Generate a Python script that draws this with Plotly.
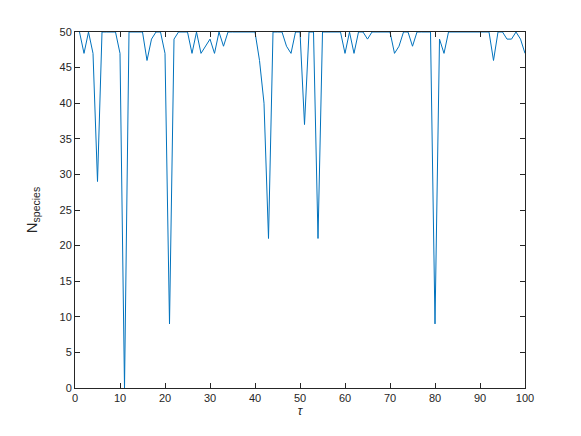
import plotly.graph_objects as go

tau = list(range(1, 101))
n_species = [
    50, 47, 50, 47, 29, 50, 50, 50, 50, 47,
    0, 50, 50, 50, 50, 46, 49, 50, 50, 47,
    9, 49, 50, 50, 50, 47, 50, 47, 48, 49,
    47, 50, 48, 50, 50, 50, 50, 50, 50, 50,
    46, 40, 21, 50, 50, 50, 48, 47, 50, 50,
    37, 50, 50, 21, 50, 50, 50, 50, 50, 47,
    50, 47, 50, 50, 49, 50, 50, 50, 50, 50,
    47, 48, 50, 50, 48, 50, 50, 50, 50, 9,
    49, 47, 50, 50, 50, 50, 50, 50, 50, 50,
    50, 50, 46, 50, 50, 49, 49, 50, 49, 47,
]

axis_color = "#262626"
font = dict(family="Liberation Sans, Arial, sans-serif", size=11, color=axis_color)

fig = go.Figure(go.Scatter(
    x=tau, y=n_species, mode="lines",
    line=dict(color="#0072BD", width=1),
))

common = dict(
    showline=True, linecolor=axis_color, linewidth=1, mirror="ticks",
    ticks="inside", ticklen=5, tickcolor=axis_color, tickwidth=1,
    showgrid=False, zeroline=False, tickfont=font,
)
fig.update_xaxes(range=[0, 100], tickvals=list(range(0, 101, 10)),
                 title=dict(text="<i>τ</i>", font=dict(family=font["family"], size=12, color=axis_color), standoff=3),
                 **common)
fig.update_yaxes(range=[0, 50], tickvals=list(range(0, 51, 5)),
                 title=dict(text="N<sub>species</sub>", font=dict(family=font["family"], size=15, color=axis_color), standoff=18),
                 **common)
fig.update_layout(
    width=581, height=436,
    margin=dict(l=67, r=64, t=24, b=56),
    plot_bgcolor="white", paper_bgcolor="white",
    showlegend=False,
)
fig.write_html("out.html")
